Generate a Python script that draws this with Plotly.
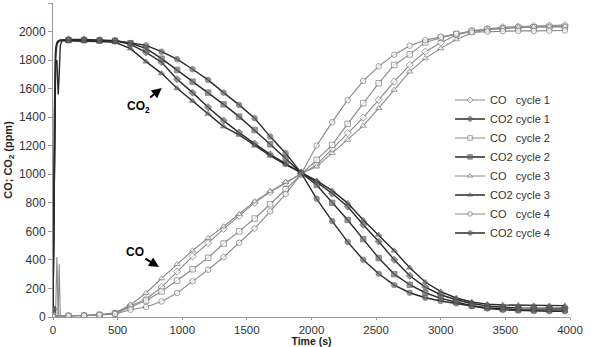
import plotly.graph_objects as go

# ---- data ----
# start-up transient (s)
t_start = [0, 10, 20, 30, 40, 48, 56, 70]
# regular sampled points (s)
t_main = [120, 240, 360, 480, 600, 720, 840, 960, 1080, 1200, 1320, 1440, 1560, 1680,
          1800, 1920, 2040, 2160, 2280, 2400, 2520, 2640, 2760, 2880, 3000, 3120, 3240,
          3360, 3480, 3600, 3720, 3840, 3960]

co_c1_start = [3, 5, 8, 420, 10, 8, 8, 8]
co_c1 = [8, 10, 15, 25, 79, 125, 210, 319, 424, 518, 618, 709, 800, 875, 940, 1005, 1066,
         1178, 1288, 1397, 1521, 1649, 1766, 1859, 1922, 1975, 2005, 2020, 2030, 2035, 2040,
         2042, 2045]
co2_c1_start = [55, 1100, 1780, 1800, 1560, 1700, 1900, 1940]
co2_c1 = [1945, 1945, 1940, 1935, 1910, 1854, 1785, 1666, 1572, 1470, 1376, 1292, 1215, 1140,
          1075, 1010, 945, 865, 774, 646, 529, 401, 289, 210, 156, 121, 95, 78, 68, 64, 62,
          62, 62]

co_c2_start = [3, 5, 8, 10, 12, 370, 10, 8]
co_c2 = [8, 10, 15, 25, 70, 115, 179, 255, 335, 415, 515, 600, 690, 790, 895, 1000, 1101,
         1206, 1353, 1498, 1638, 1766, 1840, 1924, 1957, 1982, 2005, 2015, 2022, 2027, 2030,
         2032, 2033]
co2_c2_start = [55, 1300, 1850, 1920, 1935, 1938, 1940, 1940]
co2_c2 = [1940, 1940, 1938, 1935, 1917, 1882, 1810, 1731, 1649, 1572, 1490, 1404, 1310, 1210,
          1110, 1010, 925, 800, 680, 546, 413, 300, 226, 170, 130, 105, 80, 65, 56, 52, 50,
          50, 50]

co_c3_start = [2, 4, 6, 8, 8, 8, 8, 8]
co_c3 = [8, 10, 15, 30, 86, 168, 270, 370, 466, 553, 634, 722, 810, 880, 945, 1005, 1054,
         1148, 1241, 1339, 1463, 1591, 1719, 1812, 1882, 1945, 1990, 2012, 2025, 2030, 2033,
         2035, 2037]
co2_c3_start = [40, 1200, 1820, 1910, 1930, 1935, 1935, 1935]
co2_c3 = [1935, 1935, 1930, 1925, 1880, 1789, 1707, 1602, 1514, 1423, 1334, 1276, 1200, 1130,
          1068, 1010, 955, 885, 798, 680, 576, 465, 345, 245, 178, 133, 105, 90, 84, 82, 80,
          80, 80]

co_c4_start = [2, 4, 6, 8, 8, 8, 8, 8]
co_c4 = [8, 10, 15, 22, 51, 70, 109, 168, 250, 331, 420, 520, 620, 740, 862, 1000, 1201,
         1365, 1521, 1654, 1756, 1838, 1901, 1940, 1964, 1985, 1995, 2000, 2003, 2005, 2005,
         2006, 2007]
co2_c4_start = [55, 1400, 1880, 1925, 1935, 1938, 1940, 1940]
co2_c4 = [1940, 1940, 1938, 1936, 1920, 1903, 1859, 1806, 1736, 1661, 1572, 1486, 1393, 1264,
          1148, 1010, 828, 672, 526, 401, 303, 224, 170, 135, 112, 95, 75, 60, 50, 45, 42,
          40, 40]

legend_names = ["CO\u00a0\u00a0\u00a0cycle 1", "CO2 cycle 1", "CO\u00a0\u00a0\u00a0cycle 2", "CO2 cycle 2",
                "CO\u00a0\u00a0\u00a0cycle 3", "CO2 cycle 3", "CO\u00a0\u00a0\u00a0cycle 4", "CO2 cycle 4"]

# ---- styles ----
series = [
    (legend_names[0], co_c1_start, co_c1, "diamond", False),
    (legend_names[1], co2_c1_start, co2_c1, "diamond", True),
    (legend_names[2], co_c2_start, co_c2, "square", False),
    (legend_names[3], co2_c2_start, co2_c2, "square", True),
    (legend_names[4], co_c3_start, co_c3, "triangle-up", False),
    (legend_names[5], co2_c3_start, co2_c3, "triangle-up", True),
    (legend_names[6], co_c4_start, co_c4, "circle", False),
    (legend_names[7], co2_c4_start, co2_c4, "circle", True),
]

fig = go.Figure()
x_all = t_start + t_main
for name, ys, ym, sym, filled in series:
    y_all = ys + ym
    sizes = [5.5] + [0] * (len(t_start) - 1) + [5.5] * len(t_main)
    if filled:
        line = dict(color="#2a2a2a", width=1.4)
        marker = dict(symbol=sym, size=sizes, color="#6a6a6a",
                      line=dict(color="#4a4a4a", width=0.8))
    else:
        line = dict(color="#8a8a8a", width=1.1)
        marker = dict(symbol=sym, size=sizes, color="white",
                      line=dict(color="#7a7a7a", width=1))
    fig.add_trace(go.Scatter(x=x_all, y=y_all, mode="lines+markers", name=name,
                             line=line, marker=marker))

fig.add_annotation(x=841, y=1605, ax=-23, ay=19, text="<b>CO<sub>2</sub></b>",
                   showarrow=True, arrowhead=2, arrowsize=1, arrowwidth=2,
                   arrowcolor="black", font=dict(family="Liberation Sans, Arial", size=12, color="black"))
fig.add_annotation(x=820, y=350, ax=-24, ay=-15, text="<b>CO</b>",
                   showarrow=True, arrowhead=2, arrowsize=1, arrowwidth=2,
                   arrowcolor="black", font=dict(family="Liberation Sans, Arial", size=12, color="black"))

fig.update_layout(
    width=591, height=347,
    margin=dict(l=53, r=21, t=3, b=30, autoexpand=False),
    paper_bgcolor="white", plot_bgcolor="white",
    font=dict(family="Liberation Sans, Arial", size=12, color="#333333"),
    showlegend=True,
    legend=dict(x=0.768, y=0.7375, xanchor="left", yanchor="top",
                font=dict(size=11, color="#333333"), bgcolor="rgba(0,0,0,0)",
                itemwidth=30, tracegroupgap=0),
)
fig.update_xaxes(range=[0, 4000], dtick=500, showgrid=False, zeroline=False,
                 showline=True, linecolor="#999999", linewidth=1,
                 ticks="outside", ticklen=2, tickcolor="#999999",
                 tickfont=dict(size=11.5),
                 title=dict(text="<b>Time (s)</b>", font=dict(size=10.5, color="#222222"), standoff=6),
                 automargin=False)
fig.update_yaxes(range=[0, 2200], dtick=200, showgrid=False, zeroline=False,
                 showline=True, linecolor="#999999", linewidth=1,
                 ticks="outside", ticklen=4, tickcolor="#999999",
                 title=dict(text="<b>CO; CO<sub>2</sub> (ppm)</b>", font=dict(size=11, color="#222222"), standoff=4),
                 automargin=False)

fig.write_html("out.html")
